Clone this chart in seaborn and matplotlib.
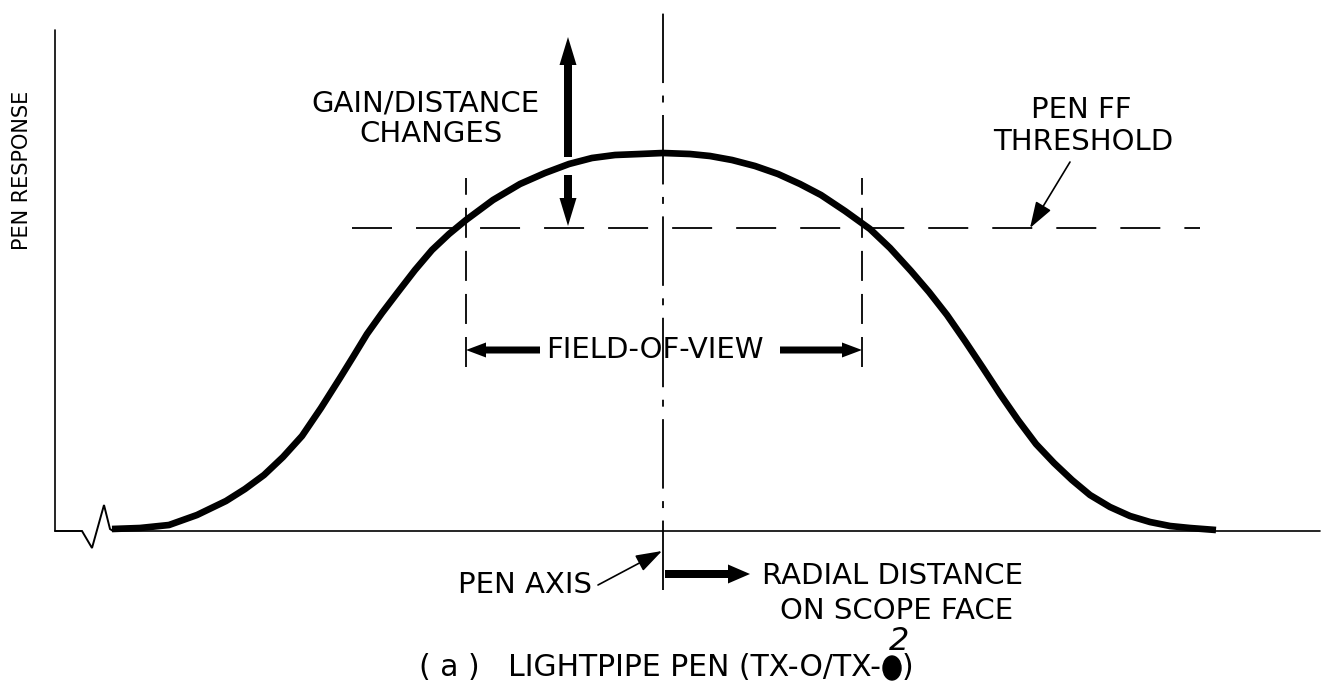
import matplotlib
matplotlib.use("Agg")
import matplotlib.pyplot as plt
import seaborn as sns
import pandas as pd
from matplotlib.patches import Ellipse

# ---------------- data (arbitrary drawing units) ----------------
# radial distance from pen axis, pen response above baseline
radial = [-551, -523, -494, -466, -437, -418, -399, -380, -361, -342, -323,
          -310, -296, -281, -265, -248, -231, -214, -197, -170, -143, -118,
          -94, -71, -48, -23, 0,
          27, 47, 69, 92, 115, 137, 158, 182, 207, 227, 248, 266, 284, 302,
          320, 337, 355, 373, 391, 409, 427, 447, 467, 487, 507, 527, 553]
response = [2, 3, 6, 16, 30, 42, 56, 74, 95, 123, 153,
            174, 197, 218, 239, 261, 281, 297, 311, 331, 347, 358,
            367, 373, 376, 377, 378,
            377, 375, 371, 365, 357, 347, 336, 320, 302, 283, 260, 239, 216,
            190, 163, 137, 111, 87, 68, 51, 36, 24, 15, 9, 5, 3, 1]
threshold = 303
threshold_span = [-311, 537]
fov_edges = [-197, 199]
fov_span = [164, 353]
pen_axis = 0
pen_axis_span = [-59, 519]

# axes frame (with break symbol)
yaxis_x = [-608, -608]
yaxis_y = [501, 0]
break_x = [-608, -581, -571, -559, -553, -550]
break_y = [0, 0, -17, 26, 2, 0]
baseline_x = [-550, 657]
baseline_y = [0, 0]

df = pd.DataFrame({"radial": radial, "response": response})

# ---------------- style ----------------
sns.set_theme(style="white")
plt.rcParams["font.family"] = ["DejaVu Sans"]
plt.rcParams["lines.scale_dashes"] = False

fig = plt.figure(figsize=(13.31, 7.0), dpi=100)
ax = fig.add_axes([0, 0, 1, 1])
ax.set_xlim(-663, 668)
ax.set_ylim(-169, 531)
ax.axis("off")

K = "black"

# axes lines
ax.plot(yaxis_x, yaxis_y, color=K, lw=1.2)
ax.plot(break_x, break_y, color=K, lw=1.4, solid_joinstyle="miter")
ax.plot(baseline_x, baseline_y, color=K, lw=1.2)

# response curve
sns.lineplot(data=df, x="radial", y="response", color=K, linewidth=4.8,
             ax=ax, sort=False, solid_capstyle="butt",
             solid_joinstyle="round")

# threshold
ax.plot(threshold_span, [threshold, threshold], color=K, lw=1.3,
        dashes=(28.8, 17.3))

# pen axis (dash-dot)
ax.plot([pen_axis, pen_axis], pen_axis_span, color=K, lw=1.3,
        dashes=(50, 9, 5, 9))

# field-of-view bounds
for fx in fov_edges:
    ax.plot([fx, fx], fov_span, color=K, lw=1.3, dashes=(21.6, 9.4))

# thick arrows
def thick_arrow(x0, y0, x1, y1, w=7.5, hw=17, hl=24):
    ax.arrow(x0, y0, x1 - x0, y1 - y0, width=w, head_width=hw,
             head_length=hl, length_includes_head=True, color=K, lw=0)

fov_y = 181
thick_arrow(-123, fov_y, fov_edges[0], fov_y, w=7, hw=15, hl=20)
thick_arrow(117, fov_y, fov_edges[1], fov_y, w=7, hw=15, hl=20)
thick_arrow(-95, 374, -95, 494, w=8, hw=17, hl=28)
thick_arrow(-95, 356, -95, threshold + 2, w=8, hw=17, hl=28)
thick_arrow(2, -43, 87, -43, w=8, hw=19, hl=22)

# thin leader arrows
lead = dict(arrowstyle="-|>,head_length=0.9,head_width=0.3", color=K,
            lw=1.2, shrinkA=0, shrinkB=0, mutation_scale=18)
ax.annotate("", xy=(367, threshold), xytext=(407, 369), arrowprops=lead)
ax.annotate("", xy=(-1, -20), xytext=(-65, -54), arrowprops=lead)

# texts
fs = 21
ax.text(-641, 361, "PEN RESPONSE", rotation=90, ha="center", va="center",
        fontsize=15, color=K)
ax.text(-238, 427, "GAIN/DISTANCE", ha="center", va="center", fontsize=fs, color=K)
ax.text(-232, 397, "CHANGES", ha="center", va="center", fontsize=fs, color=K)
ax.text(418, 421, "PEN FF", ha="center", va="center", fontsize=fs, color=K)
ax.text(420, 389, "THRESHOLD", ha="center", va="center", fontsize=fs, color=K)
ax.text(-8, fov_y, "FIELD-OF-VIEW", ha="center", va="center",
        fontsize=21, color=K)
ax.text(-71, -54, "PEN AXIS", ha="right", va="center", fontsize=fs, color=K)
ax.text(229, -45, "RADIAL DISTANCE", ha="center", va="center", fontsize=fs, color=K)
ax.text(234, -80, "ON SCOPE FACE", ha="center", va="center", fontsize=fs, color=K)

# caption
ax.text(218, -137, "( a )   LIGHTPIPE PEN (TX-O/TX-", ha="right", va="center",
        fontsize=21.5, color=K)
ax.add_patch(Ellipse((229, -137), 18, 24, color=K))
ax.text(239, -137, ")", ha="left", va="center", fontsize=21.5, color=K)
ax.text(236, -110, "2", ha="center", va="center", fontsize=23,
        fontstyle="italic", color=K)

fig.savefig("out.png", dpi=100, facecolor="white")
